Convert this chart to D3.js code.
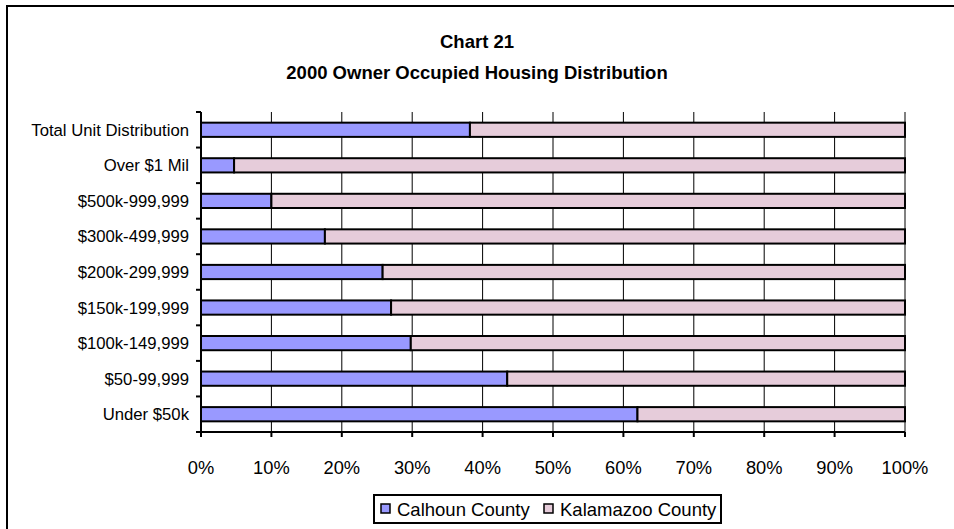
<!DOCTYPE html>
<html>
<head>
<meta charset="utf-8">
<script src="https://cdn.jsdelivr.net/npm/d3@7"></script>
<style>
  body { margin: 0; background: #fff; }
  text { font-family: "Liberation Sans", Arial, sans-serif; fill: #000; }
</style>
</head>
<body>
<div id="chart"></div>
<script>
var categories = ["Total Unit Distribution", "Over $1 Mil", "$500k-999,999", "$300k-499,999",
    "$200k-299,999", "$150k-199,999", "$100k-149,999", "$50-99,999", "Under $50k"];
var calhoun = [38.2, 4.7, 10.0, 17.6, 25.8, 27.0, 29.8, 43.5, 62.0];
var kalamazoo = calhoun.map(v => 100 - v);
var seriesNames = ["Calhoun County", "Kalamazoo County"];
var seriesColors = ["#9999FF", "#E6CCDA"];
var xTicks = [0, 10, 20, 30, 40, 50, 60, 70, 80, 90, 100];

(function() {
    var W = 954, H = 529;
    var margin = { top: 112, left: 201, right: 49, bottom: 97 },
        width = W - margin.left - margin.right,
        height = H - margin.top - margin.bottom;

    var svg = d3.select("#chart").append("svg")
        .attr("width", W).attr("height", H);

    // outer frame (only top and left visible)
    svg.append("path")
        .attr("d", "M7,529 V6 H954")
        .attr("fill", "none").attr("stroke", "#000").attr("stroke-width", 2);

    svg.append("text").attr("x", 477).attr("y", 48).attr("text-anchor", "middle")
        .style("font-size", "18.5px").style("font-weight", "bold").text("Chart 21");
    svg.append("text").attr("x", 477).attr("y", 79).attr("text-anchor", "middle")
        .style("font-size", "18.5px").style("font-weight", "bold").text("2000 Owner Occupied Housing Distribution");

    var g = svg.append("g").attr("transform", "translate(" + margin.left + "," + margin.top + ")");

    var x = d3.scaleLinear().domain([0, 100]).range([0, width]);
    var y = d3.scaleBand().domain(categories).range([0, height]).paddingInner(0.6).paddingOuter(0.3);
    var yb = d3.scaleBand().domain(categories).range([0, height]);

    // gridlines
    g.selectAll(".grid").data(xTicks.slice(1, -1)).enter().append("line")
        .attr("x1", d => x(d)).attr("x2", d => x(d))
        .attr("y1", 0).attr("y2", height)
        .attr("stroke", "#000").attr("stroke-width", 1);
    g.append("line").attr("x1", width).attr("x2", width).attr("y1", 0).attr("y2", height)
        .attr("stroke", "#808080").attr("stroke-width", 2);

    var stacked = categories.map((c, i) => ({ cat: c, vals: [calhoun[i], kalamazoo[i]] }));

    stacked.forEach(function(d) {
        var x0 = 0;
        d.vals.forEach(function(v, k) {
            g.append("rect")
                .attr("x", x(x0)).attr("y", y(d.cat))
                .attr("width", x(x0 + v) - x(x0)).attr("height", y.bandwidth())
                .attr("fill", seriesColors[k])
                .attr("stroke", "#000").attr("stroke-width", 2);
            x0 += v;
        });
    });

    // y axis
    var yAxis = g.append("g");
    yAxis.append("line").attr("x1", 0).attr("x2", 0).attr("y1", 0).attr("y2", height)
        .attr("stroke", "#000").attr("stroke-width", 2);
    yAxis.selectAll(".yt").data(d3.range(categories.length + 1)).enter().append("line")
        .attr("x1", -5).attr("x2", 0)
        .attr("y1", d => d * yb.step()).attr("y2", d => d * yb.step())
        .attr("stroke", "#000").attr("stroke-width", 2);
    yAxis.selectAll(".yl").data(categories).enter().append("text")
        .attr("x", -12).attr("y", d => yb(d) + yb.bandwidth() / 2 + 6)
        .attr("text-anchor", "end").style("font-size", "16.7px").text(d => d);

    // x axis
    var xAxis = g.append("g").attr("transform", "translate(0," + height + ")");
    xAxis.append("line").attr("x1", -5).attr("x2", width).attr("y1", 0).attr("y2", 0)
        .attr("stroke", "#000").attr("stroke-width", 2);
    xAxis.selectAll(".xt").data(xTicks).enter().append("line")
        .attr("x1", d => x(d)).attr("x2", d => x(d)).attr("y1", 0).attr("y2", 5)
        .attr("stroke", "#000").attr("stroke-width", 2);
    xAxis.selectAll(".xl").data(xTicks).enter().append("text")
        .attr("x", d => x(d)).attr("y", 42).attr("text-anchor", "middle")
        .style("font-size", "18.3px").text(d => d + "%");

    // legend
    var lg = svg.append("g").attr("transform", "translate(374,495)");
    lg.append("rect").attr("x", 0).attr("y", 0).attr("width", 347).attr("height", 28)
        .attr("fill", "#fff").attr("stroke", "#000").attr("stroke-width", 2);
    var offs = [7, 170];
    seriesNames.forEach(function(n, k) {
        lg.append("rect").attr("x", offs[k]).attr("y", 9).attr("width", 9).attr("height", 9)
            .attr("fill", seriesColors[k]).attr("stroke", "#000").attr("stroke-width", 1.5);
        lg.append("text").attr("x", offs[k] + 16).attr("y", 21)
            .style("font-size", "18.5px").text(n);
    });
})();
</script>
</body>
</html>
